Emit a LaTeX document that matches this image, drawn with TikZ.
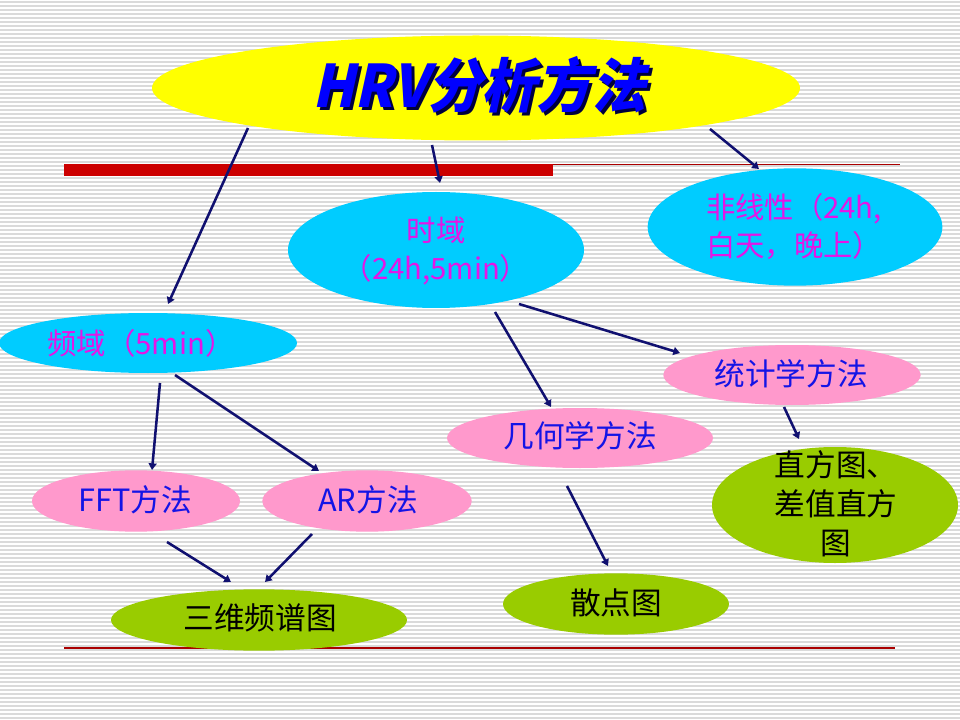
\documentclass[tikz,border=0pt]{standalone}
\usepackage{fontspec}
\setmainfont{Noto Sans CJK SC}
\newfontfamily\titlefont[FakeSlant=0.22,FakeStretch=0.93]{Noto Sans CJK SC}
\usetikzlibrary{shapes.geometric,arrows.meta}
\definecolor{stripe}{RGB}{218,218,218}
\definecolor{barred}{RGB}{204,0,0}
\definecolor{linered}{RGB}{170,0,0}
\definecolor{ylw}{RGB}{255,255,0}
\definecolor{cyanE}{RGB}{0,204,255}
\definecolor{pinkE}{RGB}{255,153,204}
\definecolor{greenE}{RGB}{153,204,0}
\definecolor{navy}{RGB}{16,16,112}
\definecolor{mag}{RGB}{230,20,230}
\definecolor{bluetxt}{RGB}{20,20,230}
\definecolor{titleblue}{RGB}{0,0,255}
\definecolor{shadowblue}{RGB}{0,0,60}
\newcommand{\shadowed}[1]{\makebox[0pt][l]{\hspace{2.2pt}\raisebox{-2.2pt}{\color{shadowblue}#1}}#1}
\tikzset{
  oval/.style={ellipse, draw=none, inner sep=0pt},
  yellowE/.style={oval, fill=ylw},
  cyanOval/.style={oval, fill=cyanE},
  pinkOval/.style={oval, fill=pinkE},
  greenOval/.style={oval, fill=greenE},
  titletxt/.style={text=titleblue, font=\titlefont\bfseries\fontsize{44pt}{50pt}\selectfont, inner sep=0pt},
  magtxt/.style={text=mag, font=\fontsize{22pt}{28.5pt}\selectfont, align=center, inner sep=0pt},
  bluet/.style={text=bluetxt, font=\fontsize{23pt}{28pt}\selectfont, inner sep=0pt},
  blackt/.style={text=black, font=\fontsize{23pt}{29.25pt}\selectfont, align=center, inner sep=0pt},
  arr/.style={draw=navy, line width=1.9pt, -{Triangle[length=5pt,width=6pt]}},
}
\begin{document}
\begin{tikzpicture}[x=0.75pt,y=-0.75pt]
\useasboundingbox (0,0) rectangle (960,720);
\fill[white] (0,0) rectangle (960,720);
% background stripes
\foreach \yy in {2,6,...,718} \draw[stripe, line width=0.8pt] (0,\yy) -- (960,\yy);
% red bars and lines
\fill[barred] (64,164) rectangle (553,176);
\draw[linered, line width=0.9pt] (553,164.5) -- (900,164.5);
\draw[linered, line width=0.9pt] (64,648) -- (895,648);

% nodes
\node[yellowE, minimum width=486pt, minimum height=78.75pt] (title) at (476,88) {};
\node[titletxt] (titletext) at (479,86) {\shadowed{HRV分析方法}};

\node[cyanOval, minimum width=222pt, minimum height=87pt] (tim) at (436,250) {};
\node[magtxt] at (436,251) {时域\\（24h,5min）};

\node[cyanOval, minimum width=221pt, minimum height=88pt] (nonlin) at (795,227) {};
\node[magtxt] at (794,226.5) {非线性（24h,\\白天，晚上）};

\node[cyanOval, minimum width=223.5pt, minimum height=45pt] (freq) at (148,343) {};
\node[magtxt] at (141,343) {频域（5min）};

\node[pinkOval, minimum width=193pt, minimum height=45pt] (stat) at (792,375) {};
\node[bluet] at (791,374) {统计学方法};

\node[pinkOval, minimum width=199.5pt, minimum height=45pt] (geo) at (580,438) {};
\node[bluet] at (580,436) {几何学方法};

\node[greenOval, minimum width=184.5pt, minimum height=87pt] (hist) at (835,505) {};
\node[blackt] at (836,504) {直方图、\\差值直方\\图};

\node[pinkOval, minimum width=156pt, minimum height=46pt] (fft) at (136,501) {};
\node[bluet] at (135,500) {FFT方法};

\node[pinkOval, minimum width=157pt, minimum height=46pt] (ar) at (367,501) {};
\node[bluet] at (368,500) {AR方法};

\node[greenOval, minimum width=222pt, minimum height=46pt] (spec) at (259,620) {};
\node[blackt] at (260,618) {三维频谱图};

\node[greenOval, minimum width=169.5pt, minimum height=46pt] (scat) at (616,604) {};
\node[blackt] at (616,603) {散点图};

% connectors
\draw[arr] ([shift={(-228,40)}]title.center) -- ([shift={(20,-39)}]freq.center);
\draw[arr] ([shift={(-44,57)}]title.center) -- ([shift={(4,-67)}]tim.center);
\draw[arr] ([shift={(234,41)}]title.center) -- ([shift={(-36,-58)}]nonlin.center);
\draw[arr] ([shift={(83,54)}]tim.center) -- ([shift={(-112,-22)}]stat.center);
\draw[arr] ([shift={(59,62)}]tim.center) -- ([shift={(-29,-31)}]geo.center);
\draw[arr] ([shift={(-8,32)}]stat.center) -- ([shift={(-36,-66)}]hist.center);
\draw[arr] ([shift={(-13,48)}]geo.center) -- ([shift={(-8,-38)}]scat.center);
\draw[arr] ([shift={(12,40)}]freq.center) -- ([shift={(16,-31)}]fft.center);
\draw[arr] ([shift={(27,32)}]freq.center) -- ([shift={(-48,-30)}]ar.center);
\draw[arr] ([shift={(31,41)}]fft.center) -- ([shift={(-28,-38)}]spec.center);
\draw[arr] ([shift={(-55,33)}]ar.center) -- ([shift={(6,-38)}]spec.center);
\end{tikzpicture}
\end{document}
